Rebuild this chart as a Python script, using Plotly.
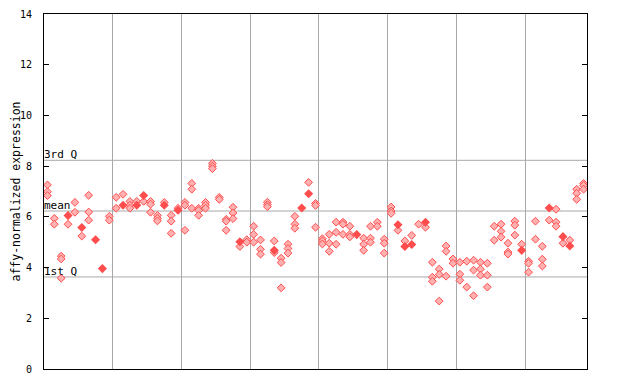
import plotly.graph_objects as go
from collections import Counter

# expression values per sample (repeated values = overlapping replicates)
values = [
    [7.26, 6.99, 6.84], [5.94, 5.71], [4.45, 4.34, 3.58], [6.05, 6.05, 5.71],
    [6.57, 6.18], [5.58, 5.58, 5.24], [6.85, 6.19, 5.87], [5.10, 5.10],
    [3.96, 3.96], [6.02, 5.87],
    [6.77, 6.34], [6.89, 6.46, 6.46], [6.61, 6.46, 6.34], [6.61, 6.46, 6.46],
    [6.84, 6.84, 6.61], [6.61, 6.50, 6.18], [6.06, 5.94, 5.84], [6.57, 6.46, 6.46],
    [6.06, 5.83, 5.35], [6.34, 6.26, 6.26],
    [6.57, 6.46, 5.47], [7.32, 7.09, 6.34], [6.34, 6.26, 6.06], [6.57, 6.46, 6.34],
    [8.11, 8.00, 7.90], [6.77, 6.69], [5.90, 5.83, 5.47], [6.38, 6.15, 5.93],
    [5.02, 5.02, 4.83], [5.10, 5.00],
    [5.63, 5.31, 5.00], [5.09, 4.72, 4.53], [6.58, 6.48, 6.40], [5.05, 4.68, 4.68, 4.59],
    [4.37, 4.20, 3.20], [4.92, 4.75, 4.57], [6.02, 5.71, 5.55], [6.35, 6.35],
    [7.36, 6.91, 6.91], [6.53, 6.45, 5.59],
    [5.14, 5.05, 4.93], [5.31, 4.96, 4.64], [5.79, 5.39, 4.92], [5.79, 5.71, 5.31],
    [5.63, 5.31, 5.21], [5.30, 5.30], [5.16, 4.92, 4.68], [5.63, 5.16, 5.00],
    [5.79, 5.63], [5.12, 4.96, 4.57],
    [6.39, 6.23, 6.14], [5.69, 5.69, 5.47], [5.05, 4.83, 4.83], [5.27, 4.91, 4.91],
    [5.71], [5.79, 5.79, 5.59], [4.21, 3.62, 3.46], [3.94, 3.73, 2.68],
    [4.85, 4.64, 3.66], [4.34, 4.17],
    [4.21, 3.74, 3.50], [4.25, 3.23], [4.29, 3.90, 2.89], [4.21, 3.94, 3.70],
    [4.17, 3.70, 3.23], [5.63, 5.08], [5.71, 5.43, 5.20], [4.96, 4.61, 4.53],
    [5.83, 5.67, 5.28], [4.92, 4.68, 4.68],
    [4.25, 4.17, 3.82], [5.83, 5.12], [4.84, 4.33, 4.06], [6.35, 6.35, 5.87],
    [6.30, 5.79, 5.63], [5.22, 5.22, 4.96], [5.08, 4.85, 4.85], [7.09, 6.93, 6.69],
    [7.32, 7.24, 7.09],
]

ref_names = ["3rd Q", "mean", "1st Q"]
ref_values = [8.23, 6.23, 3.63]
group_breaks = [9.5, 19.5, 29.5, 39.5, 49.5, 59.5, 69.5]
y_ticks = [0, 2, 4, 6, 8, 10, 12, 14]
y_title = "affy-normalized expression"

RED = "#ff4d4d"
PINK = "#ffb0b0"
FONT = "DejaVu Sans Mono"

hx, hy, fx, fy = [], [], [], []
for i, vals in enumerate(values):
    c = Counter(vals)
    for v, n in c.items():
        if n > 1:
            fx.append(i); fy.append(v)
        else:
            hx.append(i); hy.append(v)

fig = go.Figure()
fig.add_trace(go.Scatter(
    x=hx, y=hy, mode="markers", hoverinfo="y",
    marker=dict(symbol="diamond", size=6, color=PINK, line=dict(width=1, color=RED)),
))
fig.add_trace(go.Scatter(
    x=fx, y=fy, mode="markers", hoverinfo="y",
    marker=dict(symbol="diamond", size=7, color=RED, line=dict(width=0)),
))

for name, v in zip(ref_names, ref_values):
    fig.add_shape(type="line", xref="paper", x0=0, x1=1, y0=v, y1=v,
                  line=dict(color="#a8a8a8", width=1), layer="below")
    fig.add_annotation(xref="paper", x=0, y=v, text=name, showarrow=False,
                       xanchor="left", yanchor="bottom", yshift=-3, xshift=-2,
                       font=dict(family=FONT, size=11, color="black"))

# y-axis title (placed as rotated text at the far left)
fig.add_annotation(xref="paper", yref="paper", x=0, y=0.5, xshift=-29,
                   text=y_title, textangle=-90, showarrow=False, borderpad=0,
                   xanchor="center", yanchor="middle",
                   font=dict(family=FONT, size=11.5, color="black"))

# the page body adds an 8px offset; margins compensate so the plot lands in place
fig.update_layout(
    width=640, height=384,
    margin=dict(l=36, r=61, t=6, b=23, autoexpand=False),
    paper_bgcolor="white", plot_bgcolor="white",
    showlegend=False,
    font=dict(family=FONT, size=10, color="black"),
    xaxis=dict(range=[-0.5, len(values) - 0.5], tickvals=group_breaks,
               showticklabels=False, ticks="", showgrid=True,
               gridcolor="#a8a8a8", gridwidth=1, zeroline=False, automargin=False,
               showline=True, linecolor="black", linewidth=1, mirror=True),
    yaxis=dict(range=[0, 14], tickvals=y_ticks, ticks="inside", ticklen=5,
               tickcolor="black", showgrid=False, zeroline=False, automargin=False,
               showline=True, linecolor="black", linewidth=1, mirror="ticks",
               tickfont=dict(family=FONT, size=10), ticklabelstandoff=9),
)

fig.write_html("out.html")
